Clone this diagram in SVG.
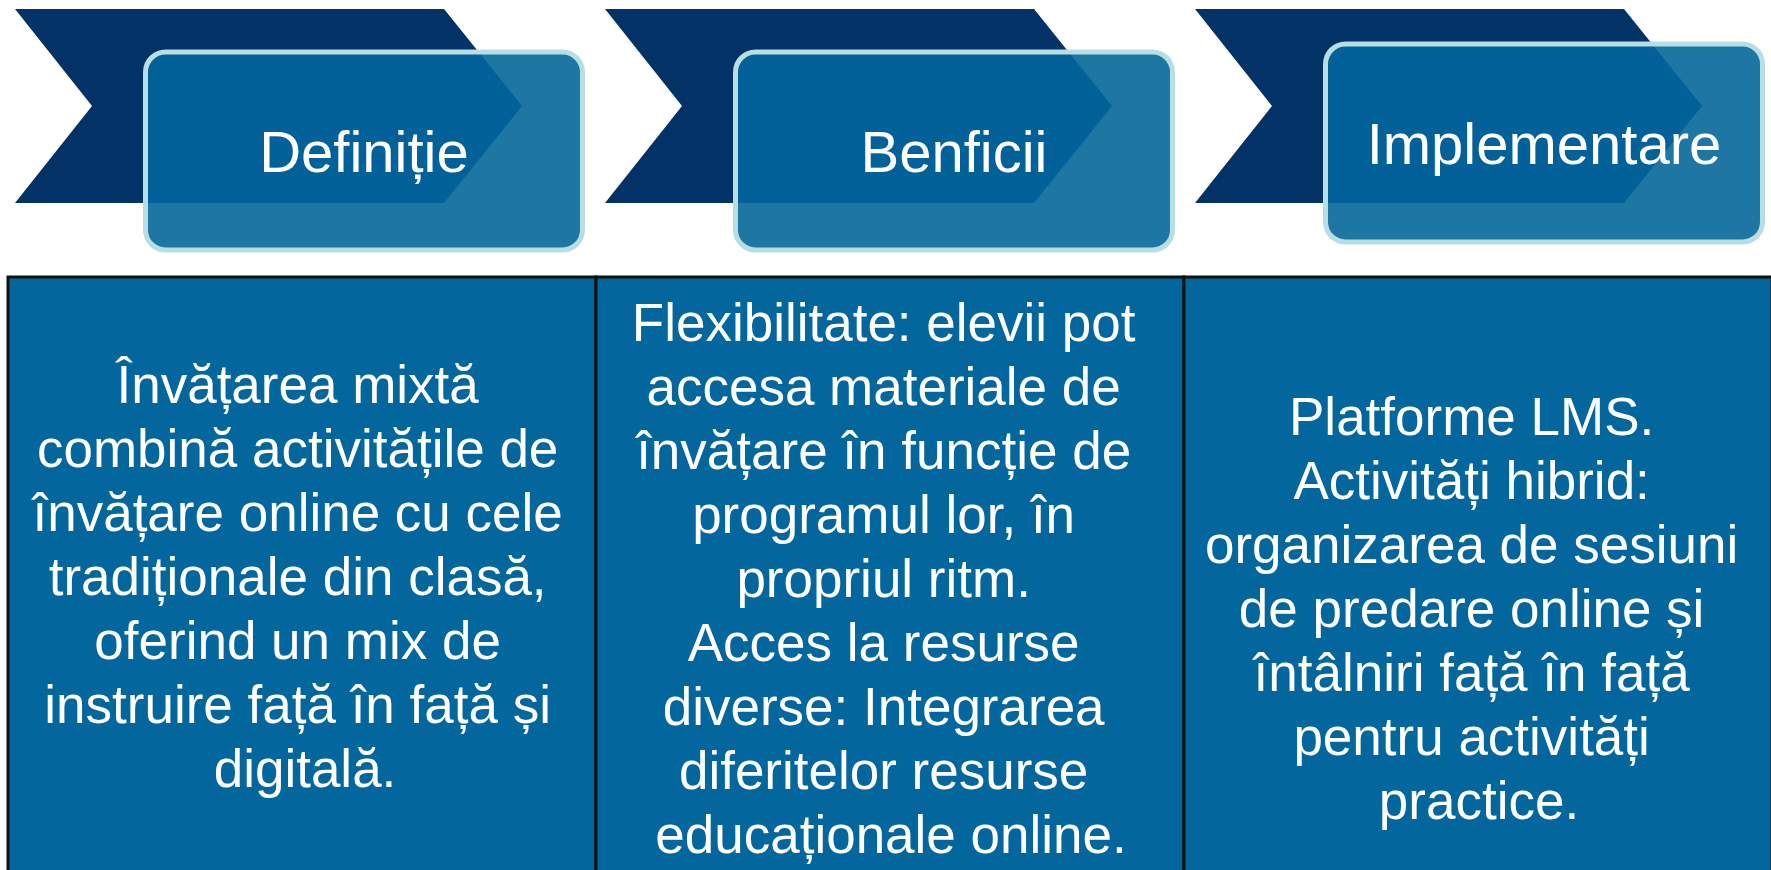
<svg xmlns="http://www.w3.org/2000/svg" xmlns:xlink="http://www.w3.org/1999/xlink" width="1771" height="870" viewBox="0 0 1771 870">
<style>
.chev{fill:#033366}
.chin{fill:#03619A}
.boxf{fill:#1E76A3}
.boxs{fill:none;stroke:#B7DEE3;stroke-width:5}
.hd{font-family:"Liberation Sans",Arial,sans-serif;font-size:58px;fill:#fff;text-anchor:middle}
.cell{fill:#03669C;stroke:#111;stroke-width:3}
.tx{font-family:"Liberation Sans",Arial,sans-serif;font-size:53px;fill:#fff;text-anchor:middle}
</style>
<defs>
<polygon id="chev" points="0,0 429,0 507,97 429,194 0,194 77,97"/>
<rect id="box" x="0" y="0" width="437" height="198" rx="20" ry="20"/>
<clipPath id="c1" clipPathUnits="userSpaceOnUse"><rect x="145.5" y="52" width="437" height="198" rx="20" ry="20"/></clipPath>
<clipPath id="c2" clipPathUnits="userSpaceOnUse"><rect x="735.5" y="52" width="437" height="198" rx="20" ry="20"/></clipPath>
<clipPath id="c3" clipPathUnits="userSpaceOnUse"><rect x="1325.5" y="44" width="437" height="198" rx="20" ry="20"/></clipPath>
</defs>
<rect width="1771" height="870" fill="#fff"/>
<g id="step1">
<use xlink:href="#chev" x="15" y="9" class="chev"/>
<use xlink:href="#box" x="145.5" y="52" class="boxf"/>
<g clip-path="url(#c1)"><use xlink:href="#chev" x="15" y="9" class="chin"/></g>
<use xlink:href="#box" x="145.5" y="52" class="boxs"/>
<text x="364" y="172" class="hd">Definiție</text>
</g>
<g id="step2">
<use xlink:href="#chev" x="605" y="9" class="chev"/>
<use xlink:href="#box" x="735.5" y="52" class="boxf"/>
<g clip-path="url(#c2)"><use xlink:href="#chev" x="605" y="9" class="chin"/></g>
<use xlink:href="#box" x="735.5" y="52" class="boxs"/>
<text x="954" y="172" class="hd">Benficii</text>
</g>
<g id="step3">
<use xlink:href="#chev" x="1195" y="9" class="chev"/>
<use xlink:href="#box" x="1325.5" y="44" class="boxf"/>
<g clip-path="url(#c3)"><use xlink:href="#chev" x="1195" y="9" class="chin"/></g>
<use xlink:href="#box" x="1325.5" y="44" class="boxs"/>
<text x="1544" y="164" class="hd">Implementare</text>
</g>
<g id="connectors"/>
<g id="cell1">
<rect x="8" y="277" width="588" height="610" class="cell"/>
<text class="tx">
<tspan x="305" y="403">Învățarea mixtă</tspan>
<tspan x="305" y="467">combină activitățile de</tspan>
<tspan x="305" y="531">învățare online cu cele</tspan>
<tspan x="305" y="595">tradiționale din clasă,</tspan>
<tspan x="305" y="659">oferind un mix de</tspan>
<tspan x="305" y="723">instruire față în față și</tspan>
<tspan x="305" y="787">digitală.</tspan>
</text>
</g>
<g id="cell2">
<rect x="596" y="277" width="588" height="610" class="cell"/>
<text class="tx">
<tspan x="891" y="341">Flexibilitate: elevii pot</tspan>
<tspan x="891" y="405">accesa materiale de</tspan>
<tspan x="891" y="469">învățare în funcție de</tspan>
<tspan x="891" y="533">programul lor, în</tspan>
<tspan x="891" y="597">propriul ritm.</tspan>
<tspan x="891" y="661">Acces la resurse</tspan>
<tspan x="891" y="725">diverse: Integrarea</tspan>
<tspan x="891" y="789">diferitelor resurse</tspan>
<tspan x="891" y="853">educaționale online.</tspan>
</text>
</g>
<g id="cell3">
<rect x="1184" y="277" width="588" height="610" class="cell"/>
<text class="tx">
<tspan x="1479" y="435">Platforme LMS.</tspan>
<tspan x="1479" y="499">Activități hibrid:</tspan>
<tspan x="1479" y="563">organizarea de sesiuni</tspan>
<tspan x="1479" y="627">de predare online și</tspan>
<tspan x="1479" y="691">întâlniri față în față</tspan>
<tspan x="1479" y="755">pentru activități</tspan>
<tspan x="1479" y="819">practice.</tspan>
</text>
</g>
</svg>
